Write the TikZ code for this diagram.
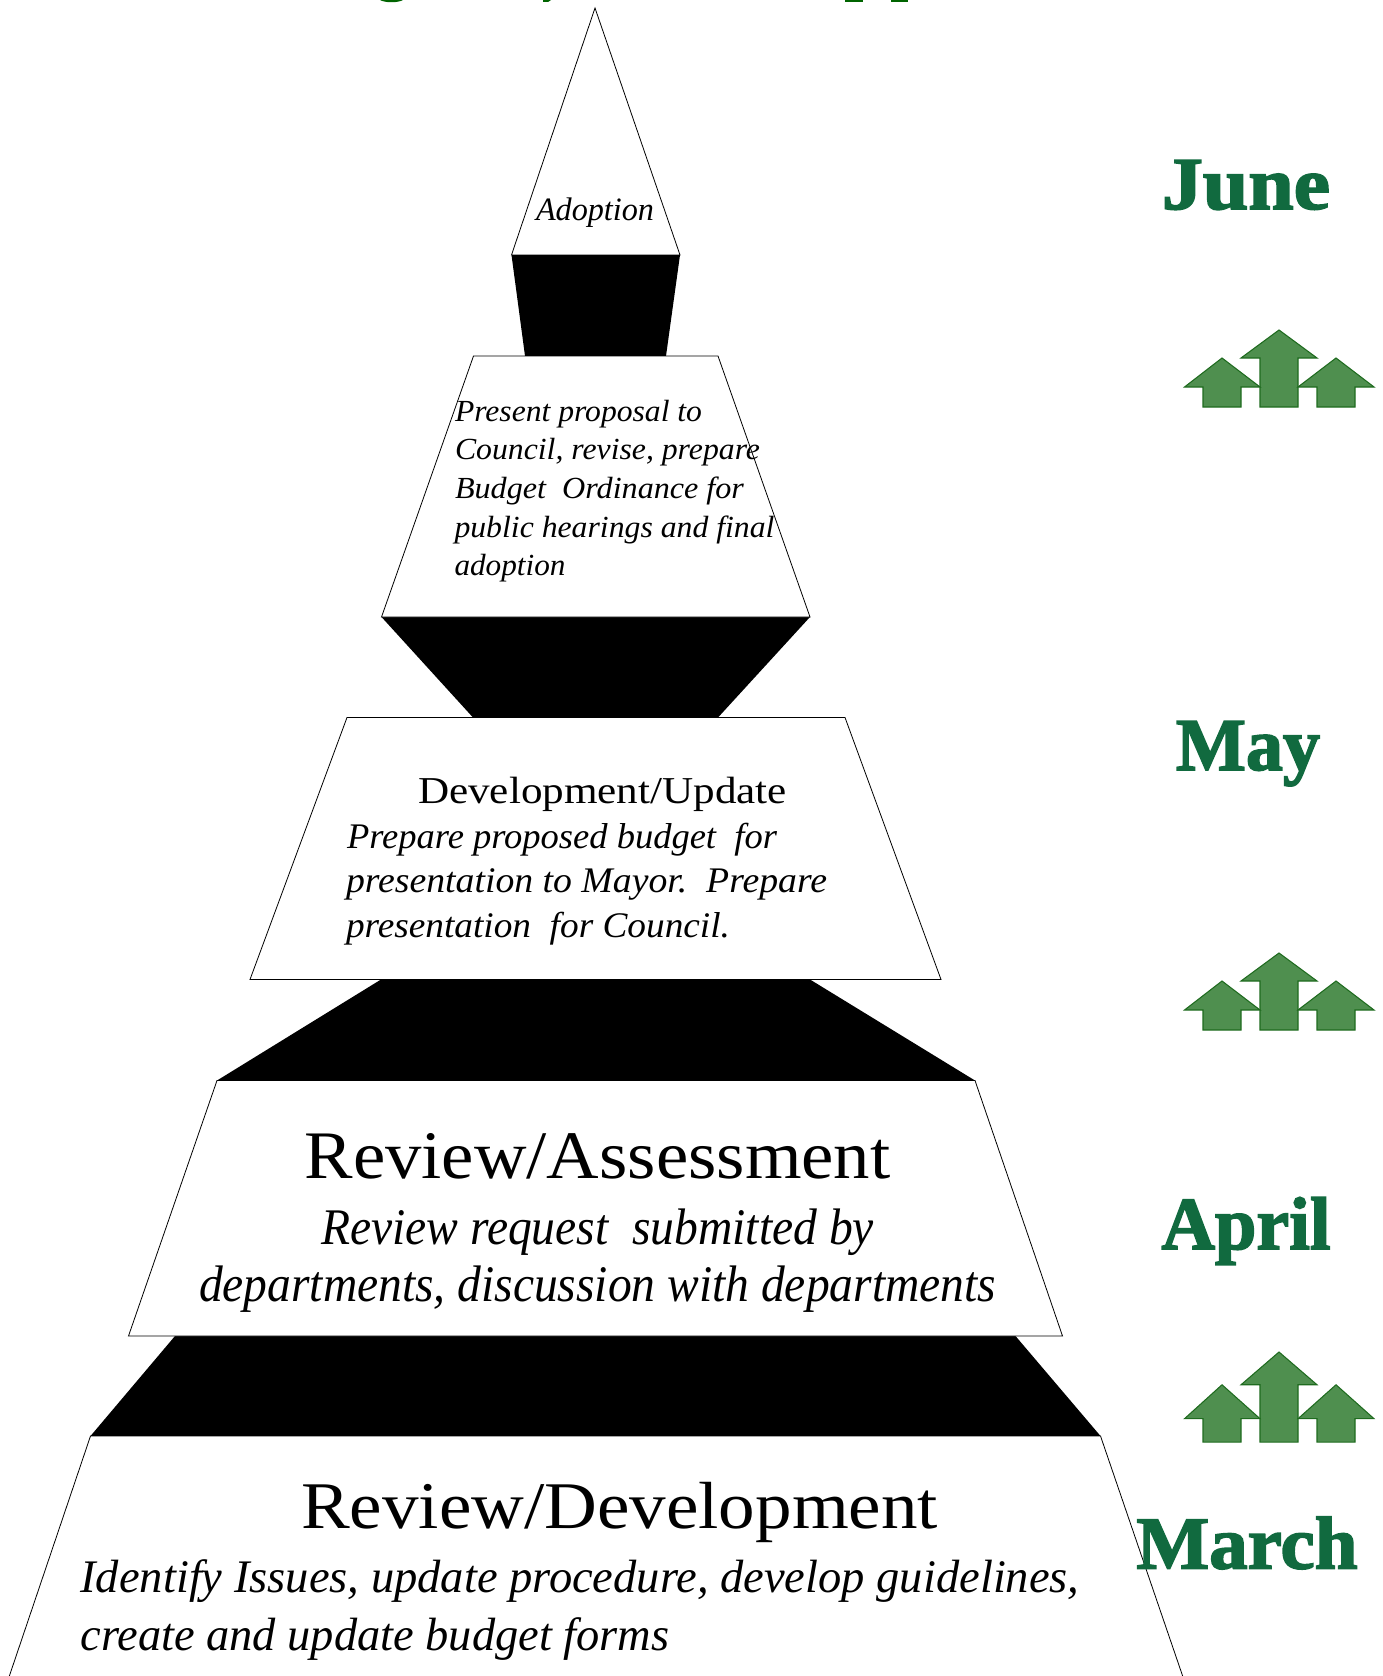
\documentclass[tikz,border=0pt]{standalone}
\usepackage{fontspec}
\usepackage{graphicx}
\setmainfont{Liberation Serif}
\newfontfamily\heavy[FakeBold=2.2]{Liberation Serif}
\definecolor{monthgreen}{HTML}{116A3F}
\definecolor{arrowfill}{HTML}{4F8F4F}
\definecolor{arrowline}{HTML}{1F6B1F}
\definecolor{titlegreen}{HTML}{006400}
\newcommand{\fitw}[2]{\resizebox{\dimexpr #1pt*3/4\relax}{\height}{#2}}
\newcommand{\arrowgroup}[2]{%
  \begin{scope}[shift={(0,#1)},yscale=#2]
    \draw[upshape] (1279,0) -- (1317,28) -- (1298,28) -- (1298,77) -- (1260,77) -- (1260,28) -- (1241,28) -- cycle;
    \draw[upshape] (1222,28) -- (1260,57) -- (1241,57) -- (1241,77) -- (1203,77) -- (1203,57) -- (1184.5,57) -- cycle;
    \draw[upshape] (1336,28) -- (1374,57) -- (1355,57) -- (1355,77) -- (1317,77) -- (1317,57) -- (1298,57) -- cycle;
  \end{scope}}
\tikzset{
  upshape/.style={fill=arrowfill,draw=arrowline,line width=0.8pt,line join=miter},
  tier/.style={fill=white,draw=black,line width=0.6pt,line join=miter},
  band/.style={fill=black,draw=none},
  lbl/.style={anchor=base west,inner sep=0pt,outer sep=0pt,text=black,align=left},
  month/.style={anchor=base west,inner sep=0pt,outer sep=0pt,text=monthgreen}
}
\begin{document}
\begin{tikzpicture}[x=0.75pt,y=-0.75pt]
\useasboundingbox (0,0) rectangle (1383,1676);
\clip (0,0) rectangle (1383,1676);
% clipped title remnants
\fill[titlegreen] (380,0) .. controls (385,3) and (398,3) .. (403,0) -- cycle;
\fill[titlegreen] (543,2) -- (548,2) -- (551,0) -- (543,0) -- cycle;
\fill[titlegreen] (845,0) rectangle (863,2);
\fill[titlegreen] (891,0) rectangle (908,2);
% black bands
\fill[band] (511.5,255) -- (680,255) -- (666,356) -- (525,356) -- cycle;
\fill[band] (381.5,617) -- (810,617) -- (718,717.5) -- (473,717.5) -- cycle;
\fill[band] (381,979.5) -- (810,979.5) -- (975,1080.5) -- (217,1080.5) -- cycle;
\fill[band] (175,1336) -- (1015.5,1336) -- (1100.5,1436) -- (90.5,1436) -- cycle;
% tiers
\draw[tier] (595,8) -- (680,255) -- (511.5,255) -- cycle;
\draw[tier] (473.5,356) -- (718,356) -- (810,617) -- (381.5,617) -- cycle;
\draw[tier] (347,717.5) -- (845,717.5) -- (941,979.5) -- (250,979.5) -- cycle;
\draw[tier] (217,1080.5) -- (975,1080.5) -- (1062.5,1336) -- (128.5,1336) -- cycle;
\draw[tier] (90.5,1436) -- (1100.5,1436) -- (1184,1680) -- (8,1680) -- cycle;
% texts
\node[lbl] (adoption) at (536,220.5) {\fitw{118}{\fontsize{24.5pt}{28pt}\selectfont\itshape Adoption}};
\node[lbl] (p1) at (455,421.5) {\fitw{247}{\fontsize{23pt}{27pt}\selectfont\itshape Present proposal to}};
\node[lbl] (p2) at (455,459) {\fitw{305}{\fontsize{23pt}{27pt}\selectfont\itshape Council, revise, prepare}};
\node[lbl] (p3) at (455,498) {\fitw{289}{\fontsize{23pt}{27pt}\selectfont\itshape Budget\ \ Ordinance for}};
\node[lbl] (p4) at (454.5,537) {\fitw{320}{\fontsize{23pt}{27pt}\selectfont\itshape public hearings and final}};
\node[lbl] (p5) at (454.5,575) {\fitw{111}{\fontsize{23pt}{27pt}\selectfont\itshape adoption}};
\node[lbl] (devhead) at (418,803.5) {\fitw{369}{\fontsize{28.5pt}{32pt}\selectfont Development/Update}};
\node[lbl] (d1) at (347,848.5) {\fitw{430}{\fontsize{27pt}{31pt}\selectfont\itshape Prepare proposed budget\ \ for}};
\node[lbl] (d2) at (346,892.5) {\fitw{481}{\fontsize{27pt}{31pt}\selectfont\itshape presentation to Mayor.\ \ Prepare}};
\node[lbl] (d3) at (346,937.5) {\fitw{384}{\fontsize{27pt}{31pt}\selectfont\itshape presentation\ \ for Council.}};
\node[lbl] (revhead) at (304.5,1178) {\fitw{586}{\fontsize{51pt}{56pt}\selectfont Review/Assessment}};
\node[lbl] (r1) at (321,1244) {\fitw{553}{\fontsize{38.5pt}{44pt}\selectfont\itshape Review request\ \ submitted by}};
\node[lbl] (r2) at (199,1301) {\fitw{797}{\fontsize{38.5pt}{44pt}\selectfont\itshape departments, discussion with departments}};
\node[lbl] (devrev) at (301,1528) {\fitw{637}{\fontsize{50pt}{56pt}\selectfont Review/Development}};
\node[lbl] (i1) at (80.5,1592.5) {\fitw{999}{\fontsize{35pt}{42pt}\selectfont\itshape Identify Issues, update procedure, develop guidelines,}};
\node[lbl] (i2) at (80.5,1650.5) {\fitw{589}{\fontsize{35pt}{42pt}\selectfont\itshape create and update budget forms}};
% months
\node[month] (june) at (1162,209) {\fitw{168}{\fontsize{56pt}{60pt}\selectfont\heavy\bfseries June}};
\node[month] (may) at (1176,770) {\fitw{144}{\fontsize{56pt}{60pt}\selectfont\heavy\bfseries May}};
\node[month] (april) at (1161.5,1249) {\fitw{169}{\fontsize{56pt}{60pt}\selectfont\heavy\bfseries April}};
\node[month] (march) at (1136.5,1568.5) {\fitw{221}{\fontsize{56pt}{60pt}\selectfont\heavy\bfseries March}};
% arrows
\arrowgroup{330}{1}
\arrowgroup{953}{1}
\arrowgroup{1352}{1.17}
\end{tikzpicture}
\end{document}
